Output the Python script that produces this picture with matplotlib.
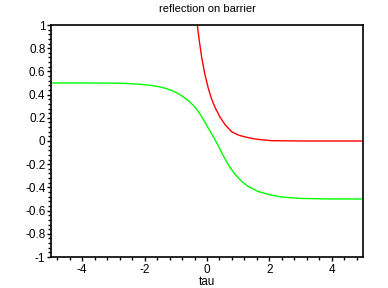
import matplotlib
matplotlib.use("Agg")
import matplotlib.pyplot as plt
from matplotlib.ticker import MultipleLocator

# green curve samples (tau, value)
green_tau = [-5.0, -4.0, -3.0, -2.6, -2.15, -1.8, -1.51, -1.3, -1.08, -0.9, -0.76, -0.6, -0.44,
             -0.36, -0.28, -0.2, -0.12, 0.0, 0.15, 0.28, 0.47, 0.68, 0.90, 1.11, 1.32, 1.64, 1.96,
             2.39, 3.0, 4.0, 5.0]
green_val = [0.5, 0.5, 0.499, 0.496, 0.489, 0.48, 0.466, 0.452, 0.43, 0.405, 0.38, 0.348, 0.308,
             0.283, 0.255, 0.222, 0.187, 0.13, 0.062, 0.0, -0.1, -0.205, -0.288, -0.348, -0.392,
             -0.435, -0.46, -0.483, -0.495, -0.5, -0.5]

# red curve samples (tau, value)
red_tau = [-0.31, -0.25, -0.17, -0.064, 0.042, 0.15, 0.256, 0.42, 0.58, 0.79, 1.0, 1.11, 1.43,
           1.70, 2.07, 3.0, 4.0, 5.0]
red_val = [1.0, 0.87, 0.72, 0.57, 0.454, 0.36, 0.29, 0.205, 0.14, 0.08, 0.052, 0.043, 0.022,
           0.012, 0.003, 0.0, 0.0, 0.0]

title = "reflection on barrier"
xlabel = "tau"

plt.rcParams['font.family'] = ['Liberation Sans', 'DejaVu Sans']
fig = plt.figure(figsize=(3.88, 2.88), dpi=100)
ax = fig.add_axes([51/388, 1-257/288, (363-51)/388, (257-25)/288])

ax.plot(red_tau, red_val, color='#ff0000', lw=1.0)
ax.plot(green_tau, green_val, color='#00ff00', lw=1.0)

ax.set_xlim(-5, 5)
ax.set_ylim(-1, 1)
ax.xaxis.set_major_locator(MultipleLocator(2))
ax.xaxis.set_minor_locator(MultipleLocator(0.4))
ax.yaxis.set_major_locator(MultipleLocator(0.2))
ax.yaxis.set_minor_locator(MultipleLocator(0.04))
ax.yaxis.set_major_formatter(plt.FuncFormatter(lambda v, p: ('%g' % round(v, 2)) if abs(v) > 1e-9 else '0'))
ax.xaxis.set_major_formatter(plt.FuncFormatter(lambda v, p: '%g' % round(v, 2)))

ax.tick_params(axis='both', which='major', direction='out', length=3, width=1, labelsize=8.5, pad=1)
ax.tick_params(axis='x', which='major', pad=2)
ax.tick_params(axis='both', which='minor', direction='out', length=2, width=1)
for s in ax.spines.values():
    s.set_linewidth(1.2)

ax.set_title(title, fontsize=8, pad=9)
ax.set_xlabel(xlabel, fontsize=8.5, labelpad=0)

fig.savefig("out.png", dpi=100)
